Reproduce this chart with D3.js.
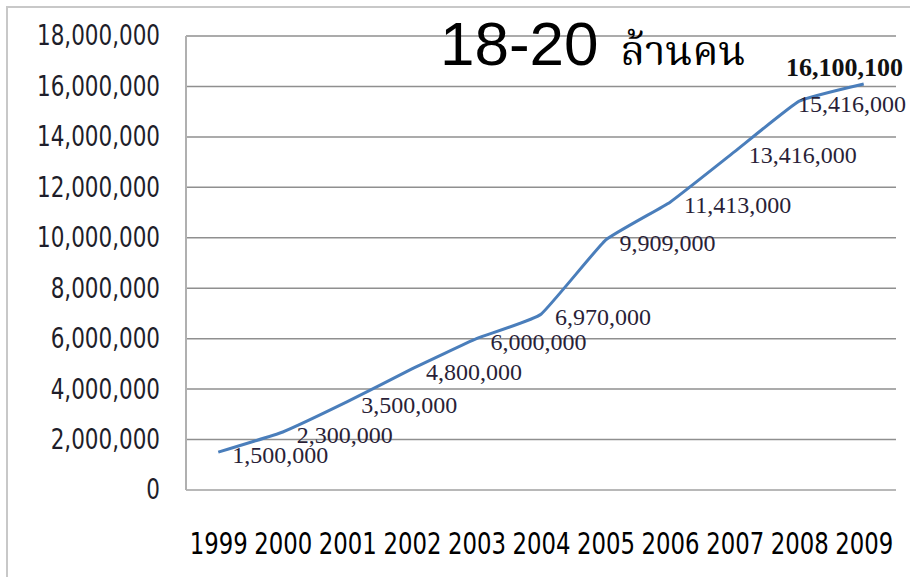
<!DOCTYPE html>
<html>
<head>
<meta charset="utf-8">
<script src="https://cdn.jsdelivr.net/npm/d3@7"></script>
<style>
  body { margin: 0; background: #fff; }
  svg { display: block; }
</style>
</head>
<body>
<svg id="chart"></svg>
<script>
// Data
const years = ["1999", "2000", "2001", "2002", "2003", "2004", "2005", "2006", "2007", "2008", "2009"];
const users = [1500000, 2300000, 3500000, 4800000, 6000000, 6970000, 9909000, 11413000, 13416000, 15416000, 16100100];
const yTicks = [0, 2000000, 4000000, 6000000, 8000000, 10000000, 12000000, 14000000, 16000000, 18000000];
const titleNum = "18-20";
const titleThai = "ล้านคน";

const W = 910, H = 577;
const margin = { top: 36, right: 14, bottom: 87, left: 186 };
const plotW = W - margin.left - margin.right,
    plotH = H - margin.top - margin.bottom;

const svg = d3.select("#chart").attr("width", W).attr("height", H);

// outer frame
svg.append("rect")
    .attr("x", 7).attr("y", 7)
    .attr("width", W + 10).attr("height", H + 10)
    .attr("fill", "none")
    .attr("stroke", "#c8c8c8")
    .attr("stroke-width", 2);

const g = svg.append("g").attr("transform", `translate(${margin.left},${margin.top})`);

const x = d3.scalePoint().domain(years).range([0, plotW]).padding(0.5);
const y = d3.scaleLinear().domain([0, 18000000]).range([plotH, 0]);

const sans = "'DejaVu Sans Condensed', 'DejaVu Sans', sans-serif";

// squeeze a text horizontally so it looks like the narrow font of the original
function squeeze(sel, factor) {
    sel.each(function () {
        const w = this.getComputedTextLength();
        d3.select(this).attr("textLength", w * factor).attr("lengthAdjust", "spacingAndGlyphs");
    });
}

// gridlines
g.selectAll(".grid")
    .data(yTicks.filter(d => d > 0))
    .enter().append("line")
    .attr("x1", 0).attr("x2", plotW)
    .attr("y1", d => y(d)).attr("y2", d => y(d))
    .attr("stroke", "#8f8f8f")
    .attr("stroke-width", 1.5);

// baseline and left axis line
g.append("line")
    .attr("x1", 0).attr("x2", plotW)
    .attr("y1", y(0)).attr("y2", y(0))
    .attr("stroke", "#b8b8b8").attr("stroke-width", 2);
g.append("line")
    .attr("x1", 0).attr("x2", 0)
    .attr("y1", 0).attr("y2", plotH)
    .attr("stroke", "#b0b0b0").attr("stroke-width", 2);

// y axis labels
const yAxis = g.append("g")
    .call(d3.axisLeft(y).tickValues(yTicks).tickFormat(d3.format(",")).tickSize(0).tickPadding(26));
yAxis.select(".domain").remove();
const yText = yAxis.selectAll("text")
    .attr("font-family", sans)
    .attr("font-size", 28)
    .attr("fill", "#1e1e2a");
const widest = d3.max(yText.nodes(), n => n.getComputedTextLength());
squeeze(yText, 123 / widest);

// x axis labels
const xAxis = g.append("g")
    .attr("transform", `translate(0,${plotH})`)
    .call(d3.axisBottom(x).tickSize(0).tickPadding(42));
xAxis.select(".domain").remove();
const xText = xAxis.selectAll("text")
    .attr("font-family", sans)
    .attr("font-size", 31)
    .attr("fill", "#000");
const yearW = d3.max(xText.nodes(), n => n.getComputedTextLength());
squeeze(xText, 58 / yearW);

// line
const pts = years.map((yr, i) => ({ year: yr, value: users[i] }));
g.append("path")
    .datum(pts)
    .attr("fill", "none")
    .attr("stroke", "#4a7ebb")
    .attr("stroke-width", 3)
    .attr("d", d3.line().x(d => x(d.year)).y(d => y(d.value)).curve(d3.curveCardinal.tension(0.65)));

// data labels
const last = pts.length - 1;
const maxRight = W - margin.left - 4;
const labels = g.selectAll(".lbl")
    .data(pts)
    .enter().append("text")
    .attr("class", "lbl")
    .attr("font-family", "'Liberation Serif', 'DejaVu Serif', serif")
    .attr("font-size", (d, i) => i === last ? 26 : 24)
    .attr("font-weight", (d, i) => i === last ? "bold" : "normal")
    .attr("fill", (d, i) => i === last ? "#111" : "#2a1f38")
    .attr("dominant-baseline", "central")
    .text(d => d3.format(",")(d.value));

labels.each(function (d, i) {
    const t = d3.select(this);
    const w = this.getComputedTextLength();
    if (i === last) {
        t.attr("text-anchor", "end").attr("x", maxRight - 3).attr("y", y(d.value) - 16);
    } else {
        let lx = x(d.year) + 14;
        if (lx + w > maxRight) lx = maxRight - w;
        t.attr("x", lx).attr("y", y(d.value) + 3);
    }
});

// title
const title = svg.append("text")
    .attr("x", 440).attr("y", 65)
    .attr("fill", "#000");
title.append("tspan")
    .attr("font-family", "'Liberation Sans', Arial, sans-serif")
    .attr("font-size", 62)
    .text(titleNum);
title.append("tspan")
    .attr("dx", 22)
    .attr("font-family", "'Noto Serif Thai', 'Noto Sans Thai', 'Loma', 'Garuda', serif")
    .attr("font-size", 41)
    .text(titleThai);
</script>
</body>
</html>
